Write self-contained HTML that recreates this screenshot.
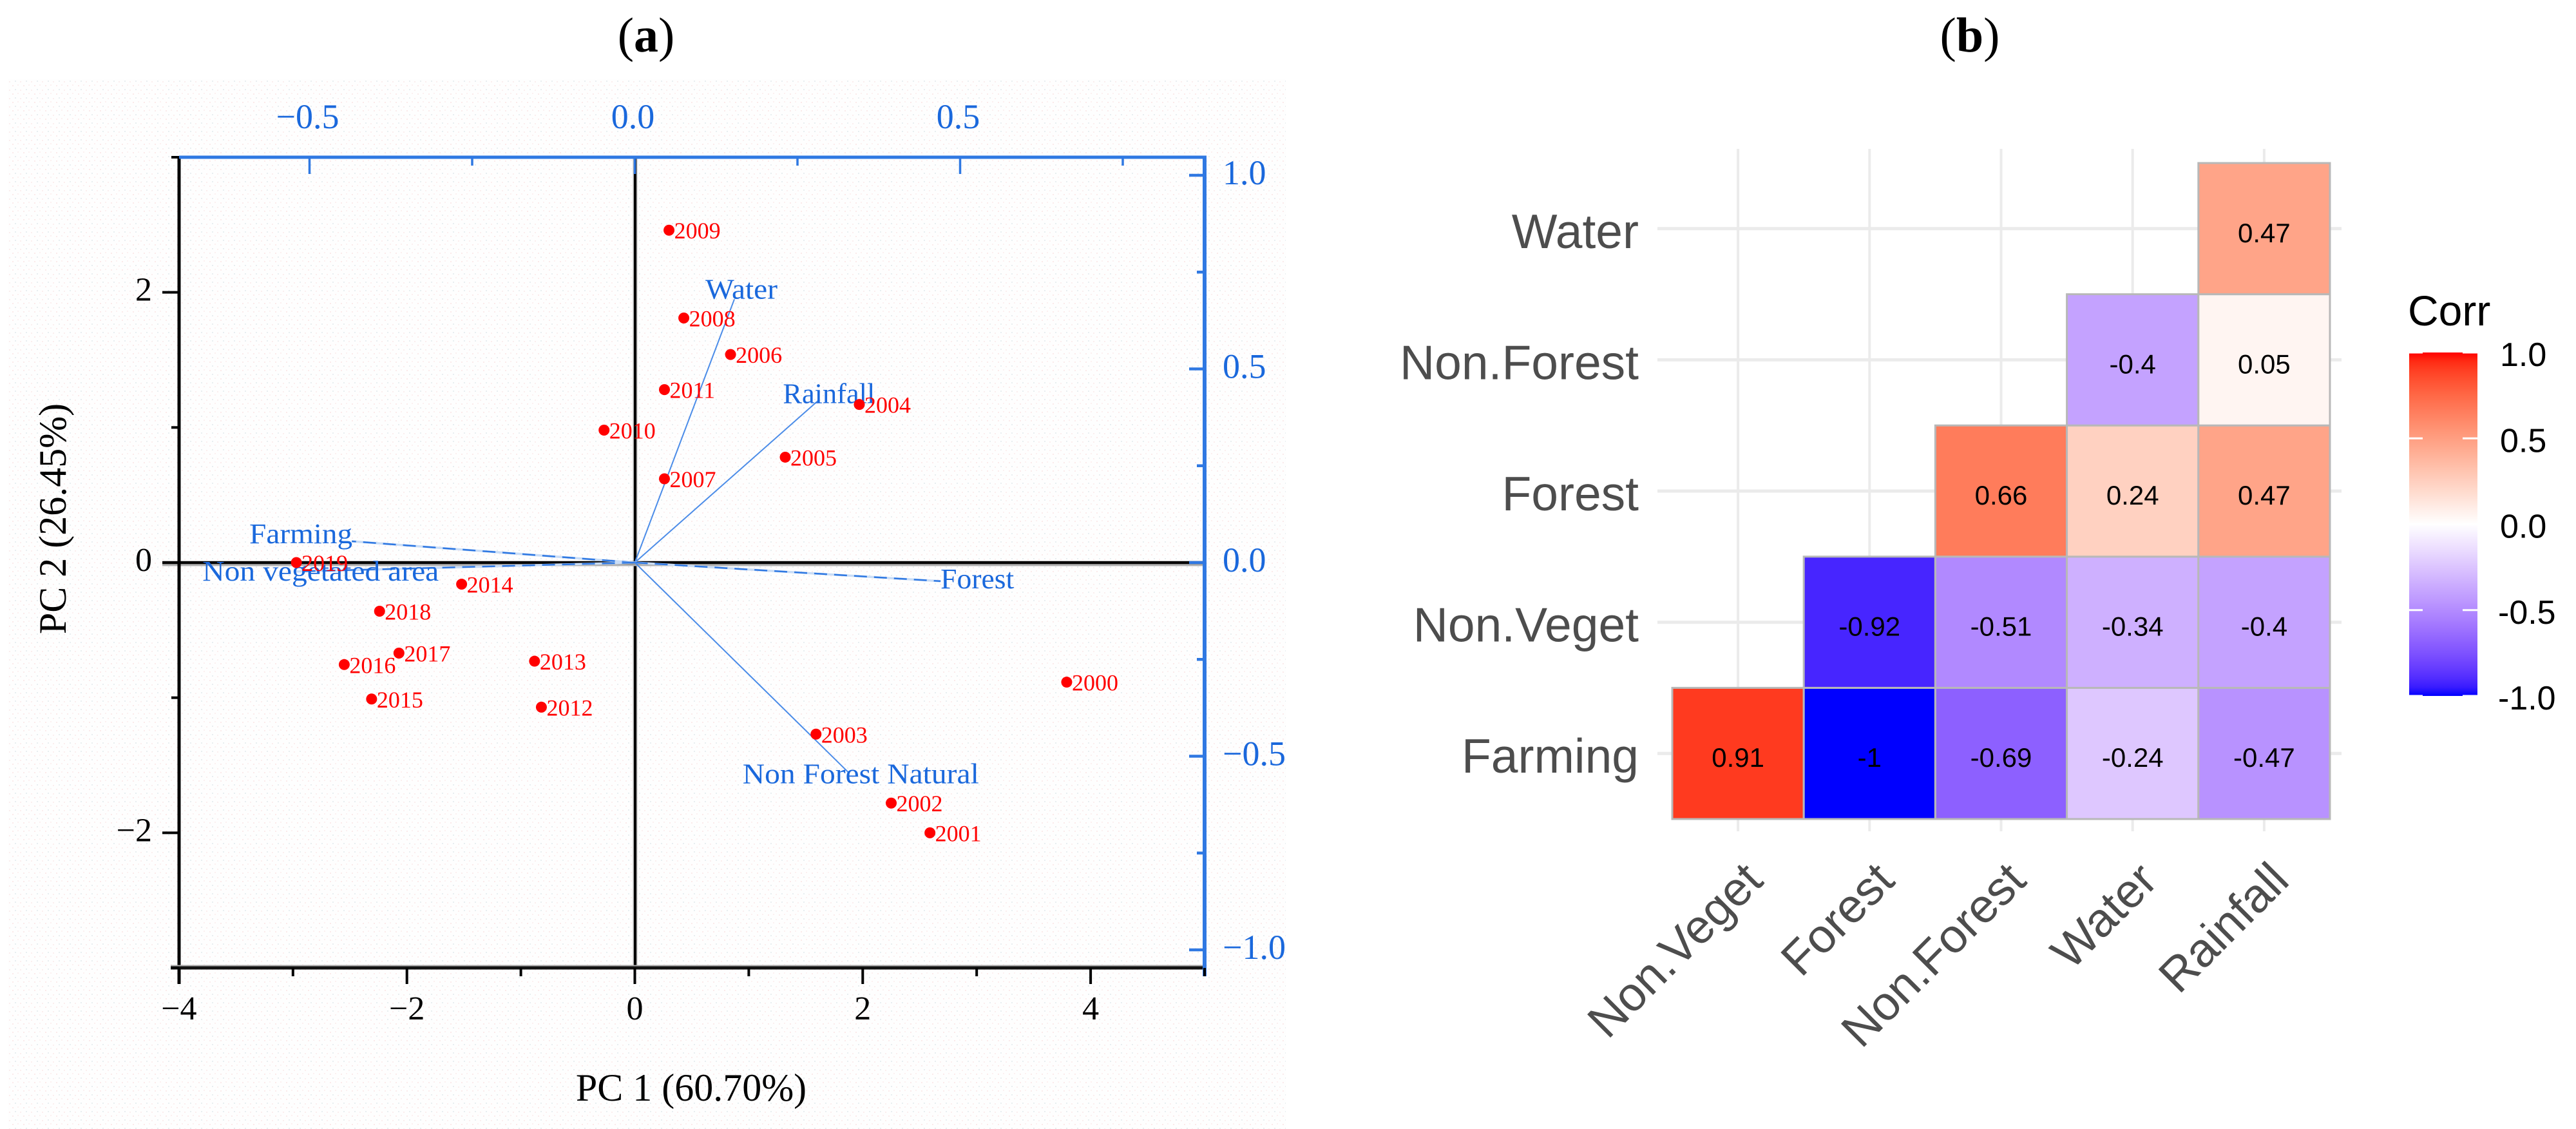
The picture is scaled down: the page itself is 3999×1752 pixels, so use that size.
<!DOCTYPE html>
<html lang="en">
<head>
<meta charset="utf-8">
<title>PCA biplot and correlation matrix</title>
<style>
html,body{margin:0;padding:0;background:#fff}
svg{display:block}
.serif{font-family:"Liberation Serif",serif}
.sans{font-family:"Liberation Sans",sans-serif}
</style>
</head>
<body>
<svg id="fig" xmlns="http://www.w3.org/2000/svg" width="3999" height="1752" viewBox="0 0 3999 1752">
  <defs>
    <pattern id="speck" width="17" height="13" patternUnits="userSpaceOnUse">
      <rect x="2" y="2" width="2" height="2" fill="#fbeaea"/>
      <rect x="10" y="1" width="2" height="2" fill="#fcf0f0"/>
      <rect x="6" y="8" width="2" height="2" fill="#e8eef0"/>
      <rect x="14" y="9" width="2" height="2" fill="#fbeeee"/>
    </pattern>
    <linearGradient id="legend-grad" x1="0" y1="0" x2="0" y2="1"></linearGradient>
  </defs>
  <rect width="3999" height="1752" fill="#ffffff"/>
  <rect x="12" y="122" width="1984" height="1630" fill="#fefefe"/>
  <rect x="12" y="122" width="1984" height="1630" fill="url(#speck)"/>

  <text class="serif" x="1003" y="80" font-size="76" text-anchor="middle" fill="#000">(<tspan font-weight="bold">a</tspan>)</text>
  <text class="serif" x="3058" y="80" font-size="76" text-anchor="middle" fill="#000">(<tspan font-weight="bold">b</tspan>)</text>

  <text class="serif" x="1073" y="1708" font-size="60" text-anchor="middle" fill="#000">PC 1 (60.70%)</text>
  <text class="serif" transform="translate(102,805) rotate(-90)" font-size="60" text-anchor="middle" fill="#000">PC 2 (26.45%)</text>

  <g id="biplot-axes"></g>
  <g id="biplot-loadings"></g>
  <g id="biplot-scores"></g>

  <g id="heat-grid"></g>
  <g id="heat-cells"></g>
  <g id="heat-labels"></g>

  <g id="legend">
    <text class="sans" x="3738" y="505" font-size="66" fill="#000">Corr</text>
  </g>
</svg>

<script>
// ---------- Panel (a) data: PCA biplot ----------
const scoreYears = ["2000","2001","2002","2003","2004","2005","2006","2007","2008","2009","2010","2011","2012","2013","2014","2015","2016","2017","2018","2019"];
const scorePC1 = [3.79,2.59,2.25,1.59,1.97,1.32,0.84,0.26,0.43,0.30,-0.27,0.26,-0.82,-0.88,-1.52,-2.31,-2.55,-2.07,-2.24,-2.97];
const scorePC2 = [-0.885,-2.00,-1.78,-1.27,1.17,0.78,1.54,0.62,1.81,2.46,0.98,1.28,-1.07,-0.73,-0.16,-1.01,-0.755,-0.67,-0.36,0.0];
const loadingNames = ["Water","Rainfall","Farming","Non vegetated area","Forest","Non Forest Natural"];
const loadingX = [0.153,0.283,-0.435,-0.52,0.47,0.329];
const loadingY = [0.68,0.42,0.055,-0.023,-0.048,-0.543];
const bottomTicks = [-4,-3,-2,-1,0,1,2,3,4,5];
const bottomTickLabels = ["\u22124","","\u22122","","0","","2","","4",""];
const leftTicks = [-3,-2,-1,0,1,2,3];
const leftTickLabels = ["","\u22122","","0","","2",""];
const topTicks = [-0.5,-0.25,0,0.25,0.5,0.75];
const topTickLabels = ["\u22120.5","","0.0","","0.5",""];
const rightTicks = [-1,-0.75,-0.5,-0.25,0,0.25,0.5,0.75,1];
const rightTickLabels = ["\u22121.0","","\u22120.5","","0.0","","0.5","","1.0"];

// ---------- Panel (b) data: correlation matrix ----------
const heatColumns = ["Non.Veget","Forest","Non.Forest","Water","Rainfall"];
const heatRows = ["Farming","Non.Veget","Forest","Non.Forest","Water"];
const rowFarming = [0.91,-1,-0.69,-0.24,-0.47];
const rowNonVeget = [null,-0.92,-0.51,-0.34,-0.4];
const rowForest = [null,null,0.66,0.24,0.47];
const rowNonForest = [null,null,null,-0.4,0.05];
const rowWater = [null,null,null,null,0.47];
const heatValues = [rowFarming,rowNonVeget,rowForest,rowNonForest,rowWater];
const legendTicks = [-1,-0.5,0,0.5,1];
const legendTickLabels = ["-1.0","-0.5","0.0","0.5","1.0"];

// ---------- helpers ----------
const NS = "http://www.w3.org/2000/svg";
function mk(parent, tag, attrs, text){
  const el = document.createElementNS(NS, tag);
  for (const k in attrs) el.setAttribute(k, attrs[k]);
  if (text !== undefined) el.textContent = text;
  parent.appendChild(el);
  return el;
}
const BLUE = "#2f78e2", BLUE_TEXT = "#1a68dc", BLACK = "#000";

// Axis functions, panel (a)
const px = v => 985.5 + v * 176.9;
const py = v => 873 + -v * 209.67;
const lx = v => 985.5 + v * 1010;
const ly = v => 873 + -v * 601;

// Axis functions, panel (b)
const cellW = 204.2, cellH = 203.6, heatLeft = 2596, heatBottom = 1271;
const colX = i => heatLeft + (i + 0.5) * cellW;
const rowY = i => heatBottom - (i + 0.5) * cellH;
const legendY = v => 813.5 - v * 266.5;

// ---------- draw biplot axes ----------
const axes = document.getElementById("biplot-axes");

let ln;
ln = mk(axes, "line", {x1:986,y1:244,x2:986,y2:1502,stroke:"#b8b8b8","stroke-width":7});


ln = mk(axes, "line", {x1:986,y1:244,x2:986,y2:1502,stroke:BLACK,"stroke-width":4});


ln = mk(axes, "line", {x1:252,y1:875,x2:1868,y2:875,stroke:"#b0b0b0","stroke-width":7});


ln = mk(axes, "line", {x1:252,y1:873,x2:1868,y2:873,stroke:BLACK,"stroke-width":4.5});


ln = mk(axes, "line", {x1:278,y1:244,x2:278,y2:1527,stroke:BLACK,"stroke-width":5});


ln = mk(axes, "line", {x1:265,y1:1501,x2:1870,y2:1501,stroke:"#a8a8a8","stroke-width":7});


ln = mk(axes, "line", {x1:265,y1:1502,x2:1870,y2:1502,stroke:"#111","stroke-width":5});


ln = mk(axes, "line", {x1:278,y1:244,x2:1873,y2:244,stroke:BLUE,"stroke-width":5});


ln = mk(axes, "line", {x1:1870,y1:242,x2:1870,y2:1515,stroke:BLUE,"stroke-width":6});



bottomTicks.forEach((v, i) => {
  const major = bottomTickLabels[i] !== "";
  const t = mk(axes, "line", {x1:px(v),y1:1502,x2:px(v),y2:major?1527:1515,stroke:BLACK,"stroke-width":4});
  
  
  if (major) {
    const l = mk(axes, "text", {x:px(v),y:1582,"font-size":52,"text-anchor":"middle",fill:BLACK,class:"serif"}, bottomTickLabels[i]);
    
    
  }
});
leftTicks.forEach((v, i) => {
  const major = leftTickLabels[i] !== "";
  const t = mk(axes, "line", {x1:278,y1:py(v),x2:major?252:266,y2:py(v),stroke:BLACK,"stroke-width":4});
  
  
  if (major) {
    const l = mk(axes, "text", {x:236,y:py(v)+13,"font-size":52,"text-anchor":"end",fill:BLACK,class:"serif"}, leftTickLabels[i]);
    
    
  }
});
topTicks.forEach((v, i) => {
  const major = topTickLabels[i] !== "";
  const t = mk(axes, "line", {x1:lx(v),y1:244,x2:lx(v),y2:major?270:257,stroke:BLUE,"stroke-width":3.5});
  
  
  if (major) {
    const l = mk(axes, "text", {x:lx(v)-3,y:199,"font-size":54,"text-anchor":"middle",fill:BLUE_TEXT,class:"serif"}, topTickLabels[i]);
    
    
  }
});
rightTicks.forEach((v, i) => {
  const major = rightTickLabels[i] !== "";
  const t = mk(axes, "line", {x1:1870,y1:ly(v),x2:major?1846:1858,y2:ly(v),stroke:BLUE,"stroke-width":4.5});
  
  
  if (major) {
    const l = mk(axes, "text", {x:1898,y:ly(v)+14,"font-size":54,fill:BLUE_TEXT,class:"serif"}, rightTickLabels[i]);
    
    
  }
});

// ---------- draw loadings ----------
const loadingsG = document.getElementById("biplot-loadings");
// label placement relative to each arrow tip: dx, dy, target width (layout only)
const labelLayout = {
  "Water": [-45, -1, 112],
  "Rainfall": [-56, 5, 143],
  "Farming": [-159, 3, 160],
  "Non vegetated area": [-146, 14, 367],
  "Forest": [0, 11, 114],
  "Non Forest Natural": [-165, 16, 367]
};
loadingNames.forEach((name, i) => {
  const x2 = lx(loadingX[i]), y2 = ly(loadingY[i]);
  const flat = Math.abs(y2 - 873) < 50;
  if (flat) {
    const under = mk(loadingsG, "line", {x1:985.5,y1:873,x2:x2,y2:y2,stroke:"#c9ddf7","stroke-width":3.5});
    
    
  }
  const seg = mk(loadingsG, "line", {x1:985.5,y1:873,x2:x2,y2:y2,stroke:flat?"#2f78e2":"#4b8ce8","stroke-width":flat?2.5:2});
  if (flat) seg.setAttribute("stroke-dasharray", "20 11");
  
  
  const o = labelLayout[name];
  const t = mk(loadingsG, "text", {x:x2+o[0],y:y2+o[1],"font-size":44,fill:BLUE_TEXT,class:"serif",textLength:o[2],lengthAdjust:"spacingAndGlyphs"}, name);
  
  
});

// ---------- draw scores ----------
const scoresG = document.getElementById("biplot-scores");
scoreYears.forEach((yr, i) => {
  const cx = px(scorePC1[i]), cy = py(scorePC2[i]);
  const c = mk(scoresG, "circle", {cx:cx,cy:cy,r:8.5,fill:"#ff0000"});
  
  
  const t = mk(scoresG, "text", {x:cx+8,y:cy+13,"font-size":36,fill:"#ff0000",class:"serif"}, yr);
  
  
});

// ---------- Lab colour scale (red / white / blue) ----------
const LAB_HIGH = [53.24,80.09,67.2], LAB_MID = [100,0,0], LAB_LOW = [32.3,79.19,-107.86];
function labToHex(L,a,b){
  const fy=(L+16)/116, fx=fy+a/500, fz=fy-b/200;
  const inv=t=>t>0.206893?t*t*t:(t-16/116)/7.787;
  const X=0.95047*inv(fx),Y=inv(fy),Z=1.08883*inv(fz);
  const lin=[3.2406*X-1.5372*Y-0.4986*Z,-0.9689*X+1.8758*Y+0.0415*Z,0.0557*X-0.2040*Y+1.0570*Z];
  return "#"+lin.map(c=>{
    c=Math.max(0,Math.min(1,c));
    c=c<=0.0031308?12.92*c:1.055*Math.pow(c,1/2.4)-0.055;
    return Math.round(c*255).toString(16).padStart(2,"0");
  }).join("");
}
function corrColor(v){
  const end=v>=0?LAB_HIGH:LAB_LOW, t=Math.min(1,Math.abs(v));
  return labToHex(LAB_MID[0]+(end[0]-LAB_MID[0])*t,LAB_MID[1]+(end[1]-LAB_MID[1])*t,LAB_MID[2]+(end[2]-LAB_MID[2])*t);
}

// ---------- heatmap grid ----------
const gridG = document.getElementById("heat-grid");
heatColumns.forEach((c, i) => {
  const g = mk(gridG, "line", {x1:colX(i),y1:231,x2:colX(i),y2:1290,stroke:"#ebebeb","stroke-width":4});
  
  
});
heatRows.forEach((r, i) => {
  const g = mk(gridG, "line", {x1:2573,y1:rowY(i),x2:3635,y2:rowY(i),stroke:"#ebebeb","stroke-width":5});
  
  
});

// ---------- heatmap cells ----------
const cellsG = document.getElementById("heat-cells");
heatValues.forEach((row, r) => {
  row.forEach((v, c) => {
    if (v === null) return;
    const rc = mk(cellsG, "rect", {x:colX(c)-cellW/2,y:rowY(r)-cellH/2,width:cellW,height:cellH,fill:corrColor(v),stroke:"#b8b8b8","stroke-width":3});
    
    
  });
});
heatValues.forEach((row, r) => {
  row.forEach((v, c) => {
    if (v === null) return;
    const t = mk(cellsG, "text", {x:colX(c),y:rowY(r)+21,"font-size":42,"text-anchor":"middle",fill:"#000",class:"sans"}, String(v));
    
    
  });
});

// ---------- heatmap axis labels ----------
const labelsG = document.getElementById("heat-labels");
heatRows.forEach((name, i) => {
  const t = mk(labelsG, "text", {x:2544,y:rowY(i)+30,"font-size":75,"text-anchor":"end",fill:"#4d4d4d",class:"sans"}, name);
  
  
});
heatColumns.forEach((name, i) => {
  const t = mk(labelsG, "text", {transform:"translate("+(colX(i)+42)+",1370) rotate(-45)","font-size":74,"text-anchor":"end",fill:"#4d4d4d",class:"sans"}, name);
  
  
});

// ---------- legend ----------
const grad = document.getElementById("legend-grad");
for (let k = 0; k <= 40; k++) {
  mk(grad, "stop", {offset:(k/40),"stop-color":corrColor(1-k/20)});
}
const legendG = document.getElementById("legend");
const bar = mk(legendG, "rect", {x:3740,y:legendY(1),width:106,height:legendY(-1)-legendY(1),fill:"url(#legend-grad)"});


legendTicks.forEach((v, i) => {
  [[3740,3761],[3823,3846]].forEach(s => {
    const t = mk(legendG, "line", {x1:s[0],x2:s[1],y1:legendY(v),y2:legendY(v),stroke:"#ffffff","stroke-width":3});
    
    
  });
  const l = mk(legendG, "text", {x:v<0?3878:3881,y:legendY(v)+21,"font-size":52,fill:"#000",class:"sans"}, legendTickLabels[i]);
  
  
});
</script>
</body>
</html>
